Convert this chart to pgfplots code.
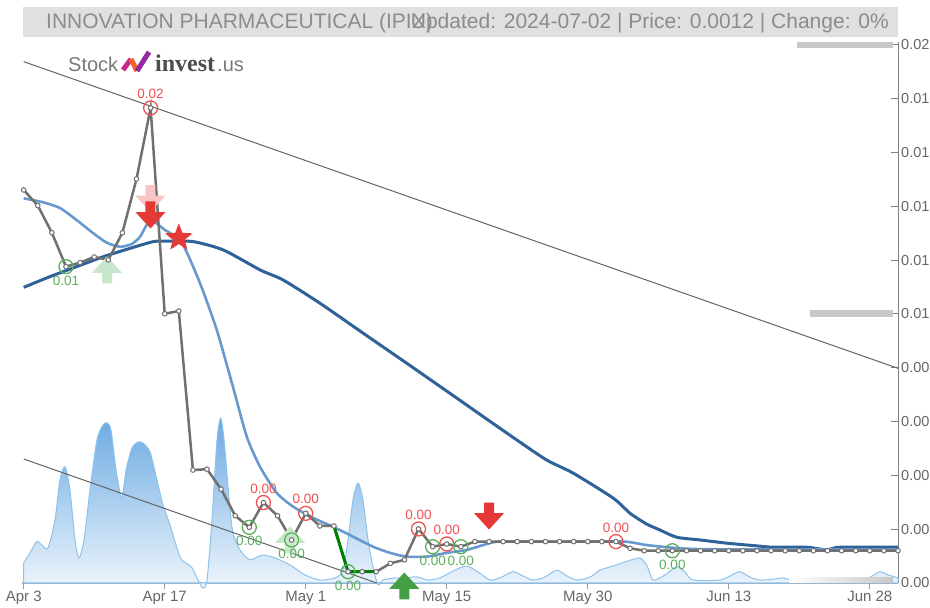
\documentclass[border=0pt]{standalone}
\usepackage{pgfplots}
\pgfplotsset{compat=1.18}
\usepackage{fontspec}
\setmainfont{Liberation Sans}
\newfontfamily\logoserif{Liberation Serif}
\definecolor{pricegray}{RGB}{112,112,112}
\definecolor{malight}{RGB}{104,153,204}
\definecolor{madark}{RGB}{47,98,152}
\definecolor{volline}{RGB}{140,195,235}
\definecolor{voltop}{RGB}{108,170,226}
\definecolor{volbot}{RGB}{238,245,252}
\definecolor{sigred}{RGB}{229,57,53}
\definecolor{siggreen}{RGB}{67,160,71}
\definecolor{palered}{RGB}{248,196,196}
\definecolor{palegreen}{RGB}{200,230,201}
\definecolor{circred}{RGB}{240,80,80}
\definecolor{circgreen}{RGB}{90,175,90}
\definecolor{labgray}{RGB}{102,102,102}
\definecolor{titlebg}{RGB}{224,224,224}
\definecolor{titlefg}{RGB}{140,140,140}
\definecolor{barsgray}{RGB}{200,200,200}
\definecolor{xaxiscol}{RGB}{160,175,195}
\definecolor{trendgray}{RGB}{100,100,100}

\pgfdeclareplotmark{downarrow}{%
 \pgfpathmoveto{\pgfqpoint{-5pt}{13.5pt}}%
 \pgfpathlineto{\pgfqpoint{5pt}{13.5pt}}%
 \pgfpathlineto{\pgfqpoint{5pt}{2.9pt}}%
 \pgfpathlineto{\pgfqpoint{15pt}{2.9pt}}%
 \pgfpathlineto{\pgfqpoint{0pt}{-13.5pt}}%
 \pgfpathlineto{\pgfqpoint{-15pt}{2.9pt}}%
 \pgfpathlineto{\pgfqpoint{-5pt}{2.9pt}}%
 \pgfpathclose\pgfusepathqfill}
\pgfdeclareplotmark{uparrow}{%
 \pgfpathmoveto{\pgfqpoint{-5pt}{-13.5pt}}%
 \pgfpathlineto{\pgfqpoint{5pt}{-13.5pt}}%
 \pgfpathlineto{\pgfqpoint{5pt}{-2.9pt}}%
 \pgfpathlineto{\pgfqpoint{15pt}{-2.9pt}}%
 \pgfpathlineto{\pgfqpoint{0pt}{13.5pt}}%
 \pgfpathlineto{\pgfqpoint{-15pt}{-2.9pt}}%
 \pgfpathlineto{\pgfqpoint{-5pt}{-2.9pt}}%
 \pgfpathclose\pgfusepathqfill}
\pgfdeclareplotmark{bigstar}{%
 \pgfpathmoveto{\pgfpointpolar{90}{14.5pt}}%
 \pgfpathlineto{\pgfpointpolar{126}{6.2pt}}%
 \pgfpathlineto{\pgfpointpolar{162}{14.5pt}}%
 \pgfpathlineto{\pgfpointpolar{198}{6.2pt}}%
 \pgfpathlineto{\pgfpointpolar{234}{14.5pt}}%
 \pgfpathlineto{\pgfpointpolar{270}{6.2pt}}%
 \pgfpathlineto{\pgfpointpolar{306}{14.5pt}}%
 \pgfpathlineto{\pgfpointpolar{342}{6.2pt}}%
 \pgfpathlineto{\pgfpointpolar{18}{14.5pt}}%
 \pgfpathlineto{\pgfpointpolar{54}{6.2pt}}%
 \pgfpathclose\pgfusepathqfill}

\begin{document}
\begin{tikzpicture}[x=1pt,y=1pt]
% title bar
\fill[titlebg] (23,571) rectangle (898,601);
\node[anchor=base west, inner sep=0pt, text=titlefg, font=\fontsize{21}{24}\selectfont] at (46,579) {INNOVATION PHARMACEUTICAL (IPIX)};
\node[anchor=base east, inner sep=0pt, text=titlefg, font=\fontsize{21}{24}\selectfont] at (889,579) {Updated: 2024-07-02 | Price: 0.0012 | Change: 0\%};

\begin{axis}[
  at={(22pt,25pt)}, anchor=south west,
  scale only axis, width=876pt, height=540.7pt,
  xmin=-0.12, xmax=62, ymin=0, ymax=0.0201,
  clip=false,
  axis x line=bottom, axis y line=right,
  x axis line style={draw=xaxiscol, line width=1.5pt, -},
  y axis line style={draw=gray, line width=1pt, -},
  tick align=inside, major tick length=7pt,
  xtick={0,10,20,30,40,50,60},
  xticklabels={Apr 3,Apr 17,May 1,May 15,May 30,Jun 13,Jun 28},
  ytick={0,0.002,0.004,0.006,0.008,0.010,0.012,0.014,0.016,0.018,0.020},
  yticklabels={0.00,0.00,0.00,0.00,0.00,0.01,0.01,0.01,0.01,0.01,0.02},
  scaled y ticks=false,
  x tick style={draw=gray!80, line width=1pt, yshift=-6pt},
  y tick style={draw=gray, line width=1pt},
  xticklabel style={font=\fontsize{15}{17}\selectfont, text=labgray, anchor=north, inner sep=0pt, yshift=-8pt},
  yticklabel style={font=\fontsize{14.5}{17}\selectfont, text=labgray, anchor=west, inner sep=0pt, xshift=3pt},
]
% volume area
\addplot[draw=volline, line width=1pt, top color=voltop, bottom color=volbot, smooth, tension=0.45] coordinates {
(0,0.00074) (0.45,0.00112) (0.92,0.00154) (1.30,0.00141) (1.72,0.00130) (2.22,0.00234) (2.57,0.00383) (2.93,0.00432)
(3.28,0.00346) (3.64,0.00160) (3.92,0.00093) (4.28,0.00160) (4.70,0.00346) (5.20,0.00532) (5.62,0.00587) (5.91,0.00595)
(6.19,0.00569) (6.55,0.00420) (6.95,0.00316) (7.26,0.00420) (7.68,0.00502) (8.11,0.00524) (8.46,0.00520) (8.96,0.00487)
(9.45,0.00383) (9.88,0.00290) (10.37,0.00216) (11.08,0.00097) (11.51,0.00074) (11.91,0.00059) (12.29,0.00019) (12.70,-0.00019)
(13.0,0.00011) (13.35,0.00234) (13.71,0.00532) (13.97,0.00613) (14.21,0.00532) (14.57,0.00309) (14.84,0.00186) (15.34,0.00123)
(16.05,0.00086) (16.9,0.00104) (17.82,0.00093) (18.89,0.00067) (19.95,0.00030) (21.01,0.00011) (22.08,0.00019) (22.65,0.00048)
(23.0,0.00160) (23.35,0.00309) (23.71,0.00372) (24.06,0.00309) (24.42,0.00160) (24.77,0.00059) (25.13,-0.00007) (25.48,0.00011)
(26.33,0.00019) (27.04,0.00019) (27.87,0.00023) (28.67,0.00011) (29.52,0.00019) (30.58,0.00048) (31.42,0.00063) (32.22,0.00041)
(33.07,0.00011) (33.78,0.00019) (34.70,0.00042) (35.41,0.00026) (36.12,0.00011) (36.97,0.00022) (37.80,0.00048) (38.53,0.00026)
(39.22,0.00011) (40.16,0.00022) (40.87,0.00048) (41.79,0.00063) (42.86,0.00082) (43.71,0.00093) (44.21,0.00063) (44.63,0.00011)
(45.48,0.00030) (46.31,0.00061) (46.90,0.00041) (47.47,0.00011) (49.38,0.00011) (50.23,0.00030) (50.80,0.00042) (51.51,0.00022)
(52.22,0.00011) (53.28,0.00015) (53.85,0.00019) (54.71,0.00011) (59.31,0.00011) (60.16,0.00026) (60.73,0.00042) (61.30,0.00030)
(62,0.00019)} \closedcycle;
% support / resistance bars
\addplot[draw=barsgray, line width=6.5pt] coordinates {(54.85,0.02) (61.65,0.02)};
\addplot[draw=barsgray, line width=7pt] coordinates {(55.77,0.01001) (61.65,0.01001)};
\addplot[draw=none, left color=white, right color=barsgray] coordinates {(54.3,0.0002) (61.65,0.0002)} \closedcycle;
% trend lines
\addplot[draw=trendgray, line width=1pt] coordinates {(0,0.01938) (62,0.00798)};
\addplot[draw=trendgray, line width=1pt] coordinates {(0,0.00461) (25.03,0)};
% long moving average
\addplot[draw=madark, line width=3pt, smooth, tension=0.4] coordinates {
(0,0.01099) (1.87,0.01139) (3.76,0.01176) (5.65,0.01213) (7.54,0.01244) (9.19,0.01269) (10.14,0.01271) (12.03,0.01269)
(14.16,0.01238) (16.76,0.01164) (18.41,0.01126) (21.01,0.01040) (24.09,0.00928) (27.16,0.00817) (30.23,0.00705) (32.60,0.00618)
(34.96,0.00532) (37.09,0.00457) (38.98,0.00408) (41.82,0.00315) (43.0,0.00259) (44.18,0.00219) (45.12,0.00197) (46.31,0.00170)
(47.97,0.00160) (49.86,0.00148) (51.99,0.00138) (53.16,0.00133) (55.53,0.00133) (56.95,0.00123) (57.89,0.00133) (62,0.00133)};
% short moving average
\addplot[draw=malight, line width=2.6pt, smooth, tension=0.4] coordinates {
(0,0.01430) (1.39,0.01415) (2.57,0.01394) (3.76,0.01349) (4.94,0.01300) (5.89,0.01265) (6.83,0.01250) (7.66,0.01260)
(8.25,0.01287) (8.72,0.01331) (9.08,0.01349) (9.43,0.01337) (10.02,0.01312) (10.38,0.01301) (11.30,0.01257) (12.50,0.01115)
(13.69,0.00941) (14.84,0.00729) (15.82,0.00544) (16.76,0.00432) (17.94,0.00335) (19.10,0.00284) (20.52,0.00242) (21.94,0.00209)
(23.36,0.00172) (24.77,0.00135) (25.98,0.00112) (27.16,0.00098) (28.58,0.00098) (30.0,0.00112) (31.42,0.00123) (32.84,0.00145)
(33.78,0.00154) (38.04,0.00154) (42.52,0.00154) (44.18,0.00141) (46.54,0.00129) (49.38,0.00125) (62,0.00125)};
% pale signal arrows (behind price)
\addplot[only marks, mark=downarrow, color=palered] coordinates {(8.99,0.01429)};
\addplot[only marks, mark=uparrow, color=palegreen] coordinates {(5.91,0.01164) (18.89,0.00160)};
% price line
\addplot[draw=pricegray, line width=2.5pt] coordinates {
(0,0.01461) (1,0.01403) (2,0.01302) (3,0.01176) (4,0.01191) (5,0.01212) (6,0.01201) (7,0.01302) (8,0.01502) (9,0.01766)
(10,0.01001) (11,0.01011) (12,0.00420) (13,0.00423) (14,0.00349) (15,0.00250) (16,0.00207) (17,0.00299) (18,0.00250) (19,0.00160)
(20,0.00259) (21,0.00212) (22,0.00212) (23,0.00042) (24,0.00042) (25,0.00042) (26,0.00073) (27,0.00086) (28,0.00201) (29,0.00135)
(30,0.00145) (31,0.00135) (32,0.00154) (33,0.00154) (34,0.00154) (35,0.00154) (36,0.00154) (37,0.00154) (38,0.00154) (39,0.00154)
(40,0.00154) (41,0.00154) (42,0.00154) (43,0.00129) (44,0.00120) (45,0.00120) (46,0.00120) (47,0.00120) (48,0.00120) (49,0.00120)
(50,0.00120) (51,0.00120) (52,0.00120) (53,0.00120) (54,0.00120) (55,0.00120) (56,0.00120) (57,0.00120) (58,0.00120) (59,0.00120)
(60,0.00120) (61,0.00120) (62,0.00120)};
% green segment
\addplot[draw=green!50!black, line width=3pt] coordinates {(22,0.00212) (23,0.00042) (24,0.00042) (25,0.00042)};
% price markers
\addplot[only marks, mark=*, mark size=2.3pt, mark options={fill=white, draw=pricegray, line width=1pt}] coordinates {
(0,0.01461) (1,0.01403) (2,0.01302) (3,0.01176) (4,0.01191) (5,0.01212) (6,0.01201) (7,0.01302) (8,0.01502) (9,0.01766)
(10,0.01001) (11,0.01011) (12,0.00420) (13,0.00423) (14,0.00349) (15,0.00250) (16,0.00207) (17,0.00299) (18,0.00250) (19,0.00160)
(20,0.00259) (21,0.00212) (22,0.00212) (23,0.00042) (24,0.00042) (25,0.00042) (26,0.00073) (27,0.00086) (28,0.00201) (29,0.00135)
(30,0.00145) (31,0.00135) (32,0.00154) (33,0.00154) (34,0.00154) (35,0.00154) (36,0.00154) (37,0.00154) (38,0.00154) (39,0.00154)
(40,0.00154) (41,0.00154) (42,0.00154) (43,0.00129) (44,0.00120) (45,0.00120) (46,0.00120) (47,0.00120) (48,0.00120) (49,0.00120)
(50,0.00120) (51,0.00120) (52,0.00120) (53,0.00120) (54,0.00120) (55,0.00120) (56,0.00120) (57,0.00120) (58,0.00120) (59,0.00120)
(60,0.00120) (61,0.00120) (62,0.00120)};
% local highs
\addplot[only marks, mark=o, mark size=7pt, color=circred, mark options={line width=1.3pt},
  nodes near coords, point meta=explicit symbolic,
  every node near coord/.style={anchor=center, yshift=14pt, inner sep=0pt, text=circred, font=\fontsize{13.5}{15}\selectfont}]
  coordinates {(9,0.01766)[0.02] (17,0.00299)[0.00] (20,0.00259)[0.00] (28,0.00201)[0.00] (30,0.00145)[0.00] (42,0.00154)[0.00]};
% local lows
\addplot[only marks, mark=o, mark size=7pt, color=circgreen, mark options={line width=1.3pt},
  nodes near coords, point meta=explicit symbolic,
  every node near coord/.style={anchor=center, yshift=-14pt, inner sep=0pt, text=circgreen, font=\fontsize{13.5}{15}\selectfont}]
  coordinates {(3,0.01176)[0.01] (16,0.00207)[0.00] (19,0.00160)[0.00] (23,0.00042)[0.00] (29,0.00135)[0.00] (31,0.00135)[0.00] (46,0.00120)[0.00]};
% signals
\addplot[only marks, mark=downarrow, color=sigred] coordinates {(8.99,0.01368) (33.0,0.00249)};
\addplot[only marks, mark=uparrow, color=siggreen] coordinates {(26.99,-0.00011)};
\addplot[only marks, mark=bigstar, color=sigred] coordinates {(11.0,0.01283)};
\end{axis}

% logo
\node[anchor=base west, inner sep=0pt, text=gray!95!black, font=\fontsize{20}{22}\selectfont] at (68,536) {Stock};
\draw[line width=5pt, color={rgb,255:red,200;green,40;blue,140}] (123,538) -- (131,549);
\draw[line width=5pt, color={rgb,255:red,240;green,100;blue,40}] (131,549) -- (137,537);
\draw[line width=5pt, color={rgb,255:red,150;green,40;blue,160}] (137,537) -- (149,556);
\node[anchor=base west, inner sep=0pt, text=black!70, font=\logoserif\bfseries\fontsize{24}{26}\selectfont] at (155,536) {invest};
\node[anchor=base west, inner sep=0pt, text=gray!95!black, font=\fontsize{20}{22}\selectfont] at (217,536) {.us};
\pgfresetboundingbox
\useasboundingbox (0,0) rectangle (930,608);
\end{tikzpicture}
\end{document}
